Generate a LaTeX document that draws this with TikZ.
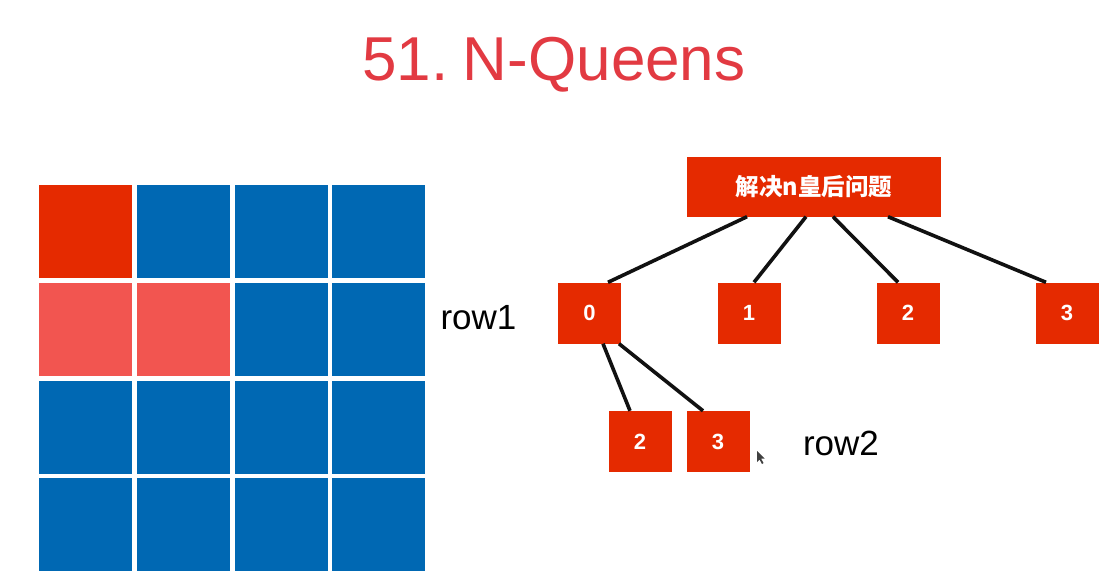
\documentclass[tikz,border=0pt]{standalone}
\usepackage{fontspec}
\setmainfont{Liberation Sans}
\newfontfamily\cjk{Noto Sans CJK SC Bold}
\definecolor{titlered}{HTML}{E23A42}
\definecolor{boxred}{HTML}{E52A00}
\definecolor{cellred}{HTML}{E52A00}
\definecolor{lightred}{HTML}{F25550}
\definecolor{cellblue}{HTML}{0068B3}
\definecolor{edgeblack}{HTML}{111111}
\tikzset{
  cellbox/.style={rectangle, fill=cellblue, draw=none, minimum width=93pt, minimum height=93pt, inner sep=0pt, anchor=north west},
  treebox/.style={rectangle, fill=boxred, draw=none, minimum width=63pt, minimum height=61pt, inner sep=0pt, text=white, font=\fontsize{22}{22}\selectfont\bfseries},
  edge/.style={draw=edgeblack, line width=3.6pt},
  rowlabel/.style={font=\fontsize{35}{35}\selectfont, text=black, anchor=base, inner sep=0pt}
}
\begin{document}
\begin{tikzpicture}[x=1pt, y=-1pt]
\useasboundingbox (0,0) rectangle (1110,581);
\fill[white] (0,0) rectangle (1110,581);
% title
\node[anchor=base, inner sep=0pt, text=titlered, font=\fontsize{62}{62}\selectfont] (title) at (554,80) {51.\kern-3pt\ N-Queens};
% grid
\foreach \i in {0,1,2,3}{
  \foreach \j in {0,1,2,3}{
    \node[cellbox] (cell-\i-\j) at ({39+\i*97.7},{185+\j*97.7}) {};
  }
}
\node[cellbox, fill=cellred] (q00) at (39,185) {};
\node[cellbox, fill=lightred] (q01) at (39,282.7) {};
\node[cellbox, fill=lightred] (q11) at (136.7,282.7) {};
% labels
\node[rowlabel] (row1) at (478.5,329) {row1};
\node[rowlabel] (row2) at (841,455) {row2};
% tree
\node[treebox, minimum width=254pt, minimum height=60pt] (root) at (814,186.5) {\cjk\fontsize{23.5}{23.5}\selectfont 解决n皇后问题};
\node[treebox] (c0) at (589.5,313) {0};
\node[treebox] (c1) at (749,313) {1};
\node[treebox] (c2) at (908,313) {2};
\node[treebox] (c3) at (1067,313) {3};
\node[treebox] (d2) at (640,441.5) {2};
\node[treebox] (d3) at (718,441.5) {3};
\draw[edge] ([xshift=-67pt]root.south) -- ([xshift=18.5pt]c0.north);
\draw[edge] ([xshift=-8pt]root.south) -- ([xshift=5pt]c1.north);
\draw[edge] ([xshift=19pt]root.south) -- ([xshift=-10pt]c2.north);
\draw[edge] ([xshift=74pt]root.south) -- ([xshift=-21pt]c3.north);
\draw[edge] ([xshift=13.5pt]c0.south) -- ([xshift=-10pt]d2.north);
\draw[edge] ([xshift=29.5pt]c0.south) -- ([xshift=-15pt]d3.north);
% mouse pointer
\fill[black!75] (757,451) -- (757,462) -- (759.5,459.5) -- (762,464) -- (763.5,463) -- (761,458.5) -- (764.5,458.5) -- cycle;
\end{tikzpicture}
\end{document}
